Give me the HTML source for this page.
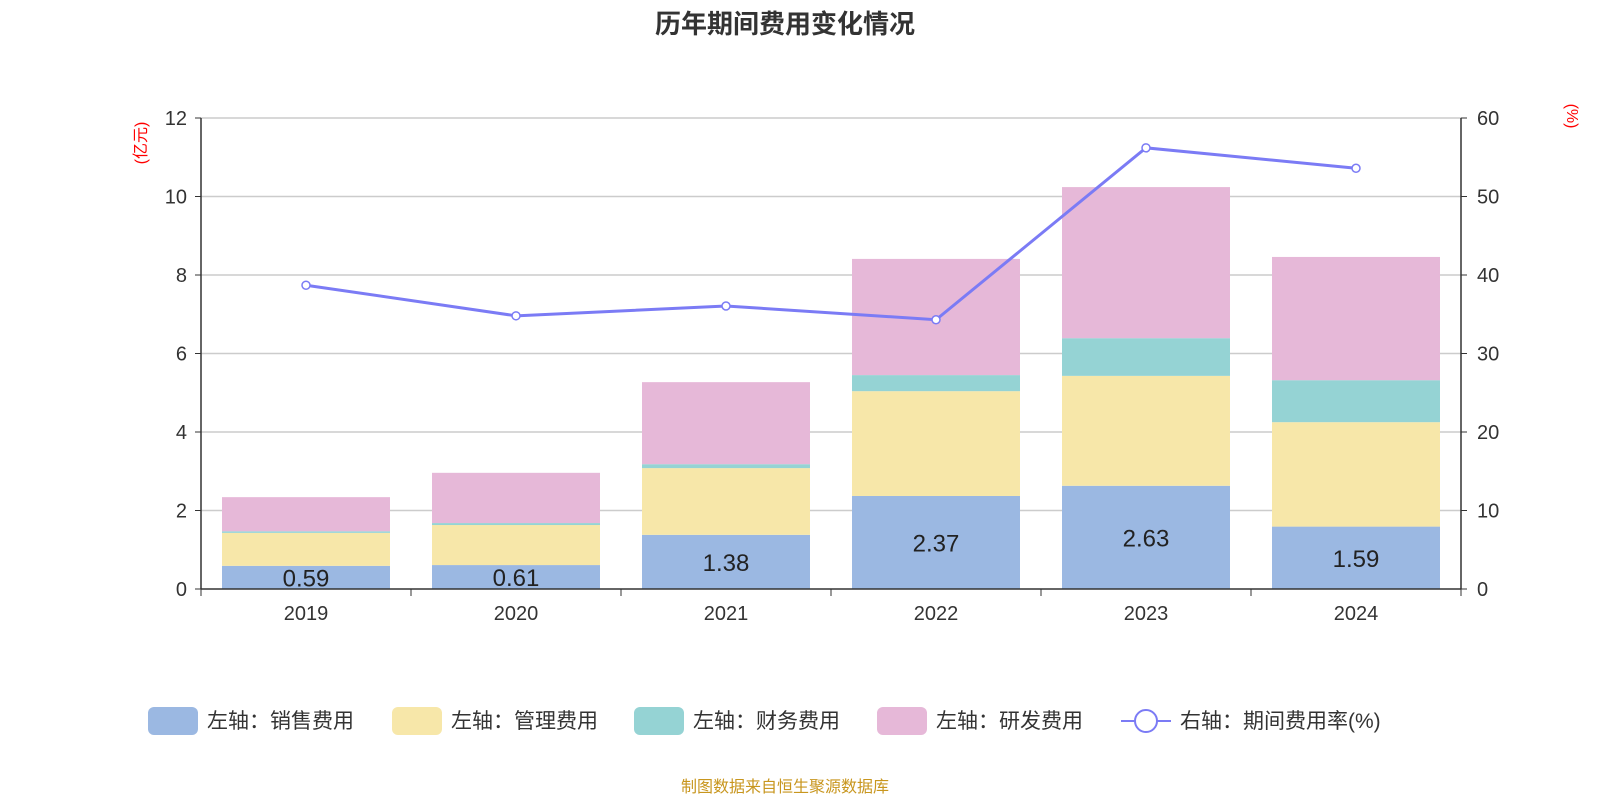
<!DOCTYPE html>
<html><head><meta charset="utf-8">
<style>
body{margin:0;background:#fff;}
svg{display:block;font-family:"Liberation Sans","Noto Sans CJK SC",sans-serif;}
</style></head>
<body>
<svg id="chart" width="1600" height="800">
<text x="785" y="33" text-anchor="middle" font-size="26" font-weight="bold" fill="#333">历年期间费用变化情况</text>
<text transform="translate(146,143) rotate(-90)" text-anchor="middle" font-size="16" fill="#f00">(亿元)</text>
<text transform="translate(1567,116) rotate(90)" text-anchor="middle" font-size="16" fill="#f00">(%)</text>
<g id="grid"></g><g id="bars"></g><g id="axes"></g><g id="line"></g><g id="legend"></g>
<text x="785" y="792" text-anchor="middle" font-size="16" fill="#c8961e">制图数据来自恒生聚源数据库</text>
</svg>
<script>
const categories=["2019","2020","2021","2022","2023","2024"];
const sales=[0.59,0.61,1.38,2.37,2.63,1.59];
const mgmt=[0.84,1.02,1.70,2.67,2.80,2.66];
const fin=[0.04,0.05,0.10,0.41,0.96,1.07];
const rnd=[0.87,1.28,2.09,2.96,3.85,3.14];
const rate=[38.7,34.8,36.05,34.3,56.2,53.6];
const leftTicks=[0,2,4,6,8,10,12];
const rightTicks=[0,10,20,30,40,50,60];
const seriesNames=["左轴：销售费用","左轴：管理费用","左轴：财务费用","左轴：研发费用"];
const colors=["#9bb8e2","#f7e7a9","#95d3d4","#e6b8d8"];
const NS="http://www.w3.org/2000/svg";
const X0=201,X1=1461,Y0=589,Y1=118;
const bw=(X1-X0)/categories.length;
const yL=v=>Y0-(v/12)*(Y0-Y1);
const yR=v=>Y0-(v/60)*(Y0-Y1);
const xC=i=>X0+bw*(i+0.5);
function mk(t,a,p){const e=document.createElementNS(NS,t);for(const k in a)e.setAttribute(k,a[k]);p.appendChild(e);return e;}
const grid=document.getElementById('grid'),bars=document.getElementById('bars'),axes=document.getElementById('axes'),line=document.getElementById('line'),legend=document.getElementById('legend');
leftTicks.forEach((v,i)=>{
 if(v>0){const g=mk('line',{x1:X0,x2:X1,y1:yL(v),y2:yL(v),stroke:'#ccc','stroke-width':1.5},grid);
 
 }
 const t=mk('text',{x:187,y:yL(v)+7,'text-anchor':'end','font-size':20,fill:'#333'},axes);t.textContent=v;
 
 
 mk('line',{x1:X0-6,x2:X0,y1:yL(v),y2:yL(v),stroke:'#333'},axes);
});
rightTicks.forEach(v=>{
 const t=mk('text',{x:1477,y:yR(v)+7,'font-size':20,fill:'#333'},axes);t.textContent=v;
 
 
 mk('line',{x1:X1,x2:X1+6,y1:yR(v),y2:yR(v),stroke:'#333'},axes);
});
mk('line',{x1:X0,x2:X0,y1:Y1,y2:Y0,stroke:'#333','stroke-width':1.5},axes);
mk('line',{x1:X1,x2:X1,y1:Y1,y2:Y0,stroke:'#333','stroke-width':1.5},axes);
mk('line',{x1:X0,x2:X1,y1:Y0,y2:Y0,stroke:'#333','stroke-width':1.5},axes);
for(let i=0;i<=categories.length;i++)mk('line',{x1:X0+bw*i,x2:X0+bw*i,y1:Y0,y2:Y0+7,stroke:'#333'},axes);
categories.forEach((c,i)=>{
 const t=mk('text',{x:xC(i),y:620,'text-anchor':'middle','font-size':20,fill:'#333'},axes);t.textContent=c;
 
 
 let base=0;
 [sales,mgmt,fin,rnd].forEach((s,k)=>{
  const r=mk('rect',{x:xC(i)-84,width:168,y:yL(base+s[i]),height:yL(base)-yL(base+s[i]),fill:colors[k]},bars);
  
  
  base+=s[i];
 });
 const lb=mk('text',{x:xC(i),y:(yL(0)+yL(sales[i]))/2+9,'text-anchor':'middle','font-size':24,fill:'#222'},bars);
 lb.textContent=sales[i].toFixed(2);
 
 
});
const pl=mk('polyline',{points:rate.map((v,i)=>xC(i)+','+yR(v)).join(' '),fill:'none',stroke:'#7b7bf5','stroke-width':3},line);


rate.forEach((v,i)=>{const c=mk('circle',{cx:xC(i),cy:yR(v),r:4,fill:'#fff',stroke:'#7b7bf5','stroke-width':1.5},line);
 
 });
const lx=[148,392,634,877];
seriesNames.forEach((n,k)=>{
 const r=mk('rect',{x:lx[k],y:707,width:50,height:28,rx:6,fill:colors[k]},legend);
 
 
 const t=mk('text',{x:lx[k]+59,y:728,'font-size':21,fill:'#333'},legend);t.textContent=n;
 
 
});
mk('line',{x1:1121,x2:1171,y1:721,y2:721,stroke:'#7b7bf5','stroke-width':2},legend);
mk('circle',{cx:1146,cy:721,r:11,fill:'#fff',stroke:'#7b7bf5','stroke-width':2},legend);
const lt=mk('text',{x:1180,y:728,'font-size':21,fill:'#333'},legend);lt.textContent="右轴：期间费用率(%)";


</script>
</body></html>
